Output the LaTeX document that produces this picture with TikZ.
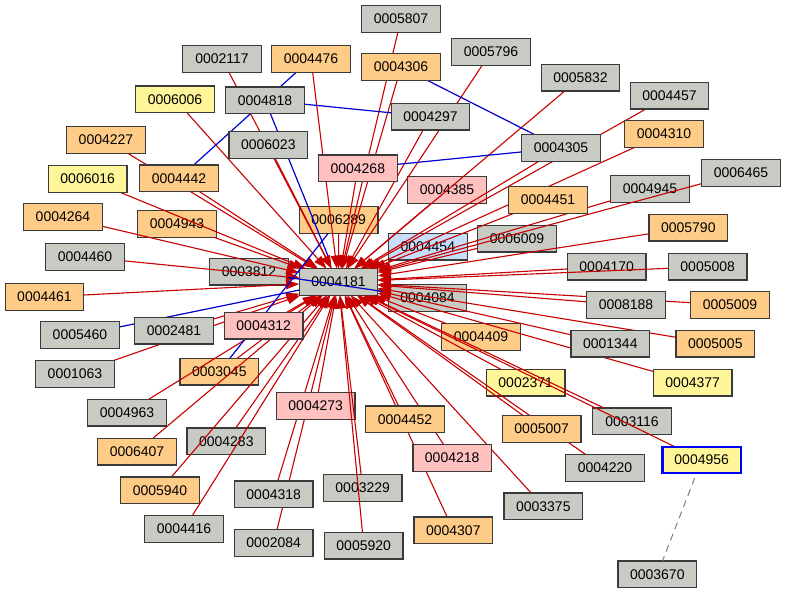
\documentclass[tikz,border=0pt]{standalone}
\usepackage{fontspec}
\setmainfont{Liberation Sans}
\usetikzlibrary{arrows.meta}
\definecolor{boxline}{HTML}{3A3A3A}
\definecolor{gfill}{HTML}{C8CAC4}
\definecolor{ofill}{HTML}{FFCC88}
\definecolor{yfill}{HTML}{FFF599}
\definecolor{pfill}{HTML}{FFC0C0}
\definecolor{bfill}{HTML}{C6DEFA}
\definecolor{edgered}{HTML}{C80000}
\definecolor{edgeblue}{HTML}{0000D0}
\definecolor{selblue}{HTML}{0000FF}
\pgfdeclarelayer{bg}
\pgfdeclarelayer{under}
\pgfdeclarelayer{edges}
\pgfdeclarelayer{late}
\pgfsetlayers{bg,under,edges,main,late}

\begin{document}
\begin{tikzpicture}[
    x=1pt, y=-1pt,
    nbox/.style={draw=boxline, line width=1.2pt, minimum width=78.6pt,
      minimum height=26.7pt, inner sep=0pt, outer sep=0pt,
      font=\fontsize{14}{16}\selectfont},
    gnode/.style={nbox, fill=gfill},
    onode/.style={nbox, fill=ofill},
    ynode/.style={nbox, fill=yfill},
    pnode/.style={nbox, fill=pfill},
    bnode/.style={nbox, fill=bfill},
    redge/.style={draw=edgered, line width=1.1pt,
      -{Triangle[length=13pt, width=9pt]}},
    bedge/.style={draw=edgeblue, line width=1.2pt},
    dedge/.style={draw=gray, line width=1pt, dash pattern=on 7pt off 5pt},
  ]

  % Background
  \begin{pgfonlayer}{bg}
    \fill[white] (0,0) rectangle (786,594);
  \end{pgfonlayer}
  \useasboundingbox (0,0) rectangle (786,594);

  % Nodes under the edges
  \begin{pgfonlayer}{under}
    \node[gnode] (n4181) at (338.5,282) {0004181};
    \node[gnode] (n3812) at (249,271.7) {0003812};
    \node[onode] (n6289) at (338.7,220) {0006289};
    \node[bnode] (n4454) at (427.8,246.7) {0004454};
    \node[gnode] (n6009) at (517,238.7) {0006009};
    \node[gnode] (n4170) at (606.7,266.7) {0004170};
    \node[gnode] (n4084) at (427.5,298) {0004084};
    \node[pnode] (n4385) at (447,190) {0004385};
    \node[ynode] (n2371) at (525.7,382.7) {0002371};
    \node[gnode] (n3116) at (632,421.3) {0003116};
    \node[onode] (n4409) at (481,337) {0004409};
    \node[onode] (n3045) at (219.3,371.7) {0003045};
    \node[gnode] (n4283) at (226.3,441.3) {0004283};
    \node[gnode] (n3229) at (362.7,488) {0003229};
    \node[onode] (n4943) at (177,224) {0004943};
    \node[gnode] (n4945) at (650,189) {0004945};
  \end{pgfonlayer}

  % Nodes over the edges
  \node[gnode] (n5807) at (401,19) {0005807};
  \node[gnode] (n2117) at (222,59) {0002117};
  \node[onode] (n4476) at (311,59) {0004476};
  \node[onode] (n4306) at (401,67) {0004306};
  \node[gnode] (n5796) at (491,52) {0005796};
  \node[gnode] (n5832) at (580.5,77.7) {0005832};
  \node[gnode] (n4457) at (669.5,95.7) {0004457};
  \node[onode] (n4310) at (664,134) {0004310};
  \node[gnode] (n6465) at (741,173) {0006465};
  \node[gnode] (n4305) at (561,148) {0004305};
  \node[gnode] (n4297) at (430.5,116.7) {0004297};
  \node[ynode] (n6006) at (175,99.3) {0006006};
  \node[gnode] (n4818) at (265,100.3) {0004818};
  \node[onode] (n4227) at (106,140) {0004227};
  \node[gnode] (n6023) at (268.3,145) {0006023};
  \node[pnode] (n4268) at (357.8,168.3) {0004268};
  \node[ynode] (n6016) at (87.7,179) {0006016};
  \node[onode] (n4442) at (179,178.3) {0004442};
  \node[onode] (n4451) at (548,200) {0004451};
  \node[onode] (n5790) at (688.3,227.7) {0005790};
  \node[gnode] (n5008) at (707.7,266.7) {0005008};
  \node[gnode] (n8188) at (626,305) {0008188};
  \node[onode] (n5009) at (730,305) {0005009};
  \node[onode] (n4264) at (63,217) {0004264};
  \node[gnode] (n4460) at (85,257) {0004460};
  \node[onode] (n4461) at (44.5,297) {0004461};
  \node[gnode] (n5460) at (80,335) {0005460};
  \node[gnode] (n2481) at (174,330.7) {0002481};
  \node[pnode] (n4312) at (263.7,325.7) {0004312};
  \node[gnode] (n1063) at (75,374) {0001063};
  \node[gnode] (n4963) at (127,412.7) {0004963};
  \node[pnode] (n4273) at (315.7,406) {0004273};
  \node[onode] (n6407) at (137,451.7) {0006407};
  \node[onode] (n5940) at (160,490.3) {0005940};
  \node[gnode] (n4318) at (273.7,494.3) {0004318};
  \node[gnode] (n4416) at (184,529) {0004416};
  \node[gnode] (n2084) at (273.7,543) {0002084};
  \node[gnode] (n5920) at (363.7,545.7) {0005920};
  \node[gnode] (n1344) at (610.3,343.7) {0001344};
  \node[onode] (n5005) at (715.3,343.7) {0005005};
  \node[ynode] (n4377) at (692.7,382.7) {0004377};
  \node[onode] (n4452) at (405,419.3) {0004452};
  \node[onode] (n5007) at (541.7,429) {0005007};
  \node[pnode] (n4218) at (452.2,458) {0004218};
  \node[gnode] (n4220) at (605,468) {0004220};
  \node[ynode, draw=selblue, line width=2.2pt] (n4956) at (701.7,460) {0004956};
  \node[gnode] (n3375) at (543.3,506.3) {0003375};
  \node[onode] (n4307) at (453.3,530.3) {0004307};
  \node[gnode] (n3670) at (657.3,574.3) {0003670};

  % Edges into 0004181
  \begin{pgfonlayer}{edges}
    \draw[redge] (n5807) -- (n4181);
    \draw[redge] (n2117) -- (n4181);
    \draw[redge] (n4476) -- (n4181);
    \draw[redge] (n4306) -- (n4181);
    \draw[redge] (n5796) -- (n4181);
    \draw[redge] (n5832) -- (n4181);
    \draw[redge] (n4457) -- (n4181);
    \draw[redge] (n4310) -- (n4181);
    \draw[redge] (n6465) -- (n4181);
    \draw[redge] (n4305) -- (n4181);
    \draw[redge] (n4297) -- (n4181);
    \draw[redge] (n6006) -- (n4181);
    \draw[redge] (n4227) -- (n4181);
    \draw[redge] (n6023) -- (n4181);
    \draw[redge] (n4268) -- (n4181);
    \draw[redge] (n6016) -- (n4181);
    \draw[redge] (n4442) -- (n4181);
    \draw[redge] (n4385) -- (n4181);
    \draw[redge] (n4451) -- (n4181);
    \draw[redge] (n4945) -- (n4181);
    \draw[redge] (n5790) -- (n4181);
    \draw[redge] (n4454) -- (n4181);
    \draw[redge] (n6009) -- (n4181);
    \draw[redge] (n4170) -- (n4181);
    \draw[redge] (n5008) -- (n4181);
    \draw[redge] (n4084) -- (n4181);
    \draw[redge] (n8188) -- (n4181);
    \draw[redge] (n5009) -- (n4181);
    \draw[redge] (n4264) -- (n4181);
    \draw[redge] (n4943) -- (n4181);
    \draw[redge] (n6289) -- (n4181);
    \draw[redge] (n4460) -- (n4181);
    \draw[redge] (n3812) -- (n4181);
    \draw[redge] (n4461) -- (n4181);
    \draw[redge] (n2481) -- (n4181);
    \draw[redge] (n4312) -- (n4181);
    \draw[redge] (n1063) -- (n4181);
    \draw[redge] (n3045) -- (n4181);
    \draw[redge] (n4963) -- (n4181);
    \draw[redge] (n4273) -- (n4181);
    \draw[redge] (n6407) -- (n4181);
    \draw[redge] (n4283) -- (n4181);
    \draw[redge] (n5940) -- (n4181);
    \draw[redge] (n4318) -- (n4181);
    \draw[redge] (n4416) -- (n4181);
    \draw[redge] (n2084) -- (n4181);
    \draw[redge] (n4409) -- (n4181);
    \draw[redge] (n1344) -- (n4181);
    \draw[redge] (n5005) -- (n4181);
    \draw[redge] (n2371) -- (n4181);
    \draw[redge] (n4377) -- (n4181);
    \draw[redge] (n4452) -- (n4181);
    \draw[redge] (n5007) -- (n4181);
    \draw[redge] (n3116) -- (n4181);
    \draw[redge] (n4218) -- (n4181);
    \draw[redge] (n4220) -- (n4181);
    \draw[redge] (n4956) -- (n4181);
    \draw[redge] (n3375) -- (n4181);
    \draw[redge] (n4307) -- (n4181);

    % Blue links
    \draw[bedge] (n4476) -- (n4442);
    \draw[bedge] (n4818) -- (n4297);
    \draw[bedge] (n4306) -- (n4305);
    \draw[bedge] (n4268) -- (n4305);
    \draw[bedge, shorten >=14pt] (n4818) -- (n4181);
    \draw[bedge] (n6289) -- (n3045);
    \draw[bedge] (n5460) -- (n4181);
    \draw[bedge, shorten >=6pt] (n3812) -- (n4084);
  \end{pgfonlayer}

  % Edges drawn last
  \begin{pgfonlayer}{late}
    \draw[redge] (n3229) -- (n4181);
    \draw[redge] (n5920) -- (n4181);
    \draw[dedge, shorten <=5pt] (n4956) -- (n3670);
  \end{pgfonlayer}

\end{tikzpicture}
\end{document}
